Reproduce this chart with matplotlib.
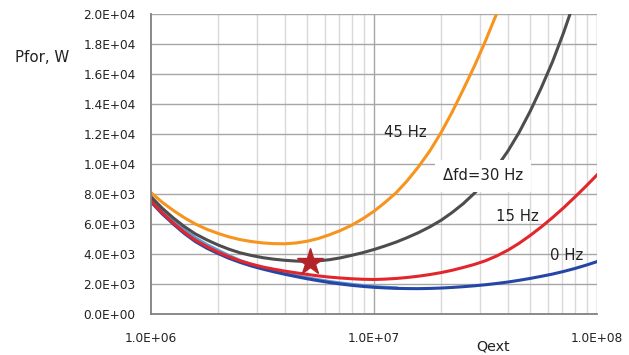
import numpy as np
import matplotlib
matplotlib.use("Agg")
from matplotlib import pyplot as plt
from matplotlib.ticker import FixedLocator, NullFormatter

# values (Qext, forward power in W)
qext = [1.00e6, 1.12e6, 1.26e6, 1.41e6, 1.58e6, 1.78e6, 2.00e6, 2.24e6, 2.51e6, 2.82e6,
        3.16e6, 3.55e6, 3.98e6, 4.47e6, 5.01e6, 5.62e6, 6.31e6, 7.08e6, 7.94e6, 8.91e6,
        1.00e7, 1.12e7, 1.26e7, 1.41e7, 1.58e7, 1.78e7, 2.00e7, 2.24e7, 2.51e7, 2.82e7,
        3.16e7, 3.55e7, 3.98e7, 4.47e7, 5.01e7, 5.62e7, 6.31e7, 7.08e7, 7.94e7, 8.91e7,
        1.00e8]

p_45 = [8090, 7460, 6900, 6420, 6000, 5650, 5370, 5140, 4960, 4830,
        4740, 4690, 4680, 4735, 4850, 5030, 5280, 5570, 5920, 6350,
        6850, 7435, 8100, 8890, 9800, 10875, 12100, 13455, 14950, 16525,
        18200, 20030, 22000]
p_30 = [7820, 7065, 6400, 5830, 5340, 4940, 4600, 4315, 4080, 3900,
        3760, 3655, 3580, 3530, 3500, 3540, 3620, 3745, 3910, 4090,
        4300, 4535, 4800, 5095, 5420, 5810, 6250, 6765, 7350, 8050,
        8850, 9790, 10850, 12095, 13500, 15070, 16800, 18750, 20900]
p_15 = [7550, 6760, 6060, 5450, 4920, 4490, 4120, 3810, 3540, 3325,
        3140, 2990, 2860, 2745, 2640, 2540, 2460, 2400, 2350, 2315,
        2300, 2325, 2370, 2435, 2520, 2630, 2760, 2915, 3100, 3305,
        3550, 3870, 4250, 4710, 5230, 5800, 6420, 7080, 7780, 8510,
        9270]
p_0 = [7470, 6690, 5990, 5370, 4830, 4385, 4030, 3710, 3440, 3200,
       3000, 2815, 2650, 2495, 2350, 2220, 2100, 2000, 1910, 1840,
       1780, 1740, 1710, 1695, 1690, 1705, 1730, 1770, 1820, 1880,
       1950, 2035, 2130, 2245, 2370, 2510, 2660, 2835, 3030, 3250,
       3490]
p_lb = [7650, 6885, 6200, 5600, 5080, 4630, 4250, 3890, 3570, 3300,
        3080, 2885, 2720, 2560, 2420, 2290, 2170, 2070, 1980, 1900,
        1830, 1780, 1740]

star_q = 5.16e6
star_p = 3490

y_ticks = np.arange(0, 20001, 2000)
x_ticks = [1e6, 1e7, 1e8]

fig = plt.figure(figsize=(6.29, 3.55), dpi=100)
ax = fig.add_axes([151 / 629, 1 - 314 / 355, 446 / 629, 300 / 355])
ax.set_xscale("log")
ax.set_xlim(1e6, 1e8)
ax.set_ylim(0, 20000)

# grid
minors = [m * 10 ** e for e in (6, 7) for m in range(2, 10)]
for q in minors:
    ax.axvline(q, color="#d9d9d9", lw=1.0, zorder=0)
ax.axvline(1e7, color="#a6a6a6", lw=1.0, zorder=0)
ax.axvline(1e8, color="#a6a6a6", lw=1.0, zorder=0)
for p in y_ticks[1:]:
    ax.axhline(p, color="#a6a6a6", lw=1.0, zorder=0)

lw = 2.2
ax.plot(qext[:len(p_lb)], p_lb, color="#5b9bd5", lw=lw, zorder=2)
ax.plot(qext[:len(p_0)], p_0, color="#2546a4", lw=lw, zorder=3)
ax.plot(qext[:len(p_15)], p_15, color="#e3262b", lw=lw, zorder=3)
ax.plot(qext[:len(p_30)], p_30, color="#4d4d4d", lw=lw, zorder=3)
ax.plot(qext[:len(p_45)], p_45, color="#f7941d", lw=lw, zorder=4)
ax.plot([star_q], [star_p], marker="*", ms=20, color="#b3242a", zorder=6,
        markeredgecolor="#b3242a")

# ticks and spines
ax.xaxis.set_major_locator(FixedLocator(x_ticks))
ax.xaxis.set_minor_formatter(NullFormatter())
ax.set_xticks(x_ticks, [f"{v:.1E}" for v in x_ticks])
ax.set_yticks(y_ticks, [f"{v:.1E}" for v in y_ticks])
ax.tick_params(axis="x", which="both", length=0, pad=13, labelsize=8.7, colors="#222222")
ax.tick_params(axis="y", length=0, pad=11, labelsize=8.7, colors="#222222")
for s in ("top", "right"):
    ax.spines[s].set_visible(False)
for s in ("left", "bottom"):
    ax.spines[s].set_color("#808080")
    ax.spines[s].set_linewidth(1.3)
    ax.spines[s].set_zorder(5)

# labels
fs = 10.7
ax.text(1.377e7, 12133, "45 Hz", fontsize=fs, ha="center", va="center", color="#222222", zorder=7)
ax.text(3.08e7, 9200, "\u0394fd=30 Hz", fontsize=fs, ha="center", va="center", color="#222222",
        zorder=7, bbox=dict(boxstyle="square,pad=0.55", fc="white", ec="none"))
ax.text(4.38e7, 6467, "15 Hz", fontsize=fs, ha="center", va="center", color="#222222", zorder=7)
ax.text(7.34e7, 3933, "0 Hz", fontsize=fs, ha="center", va="center", color="#222222", zorder=7)

fig.text(15 / 629, 1 - 58 / 355, "Pfor, W", fontsize=10.8, ha="left", va="center", color="#222222")
fig.text(493 / 629, 1 - 346 / 355, "Qext", fontsize=10.3, ha="center", va="center", color="#222222")

fig.savefig("out.png", dpi=100)
